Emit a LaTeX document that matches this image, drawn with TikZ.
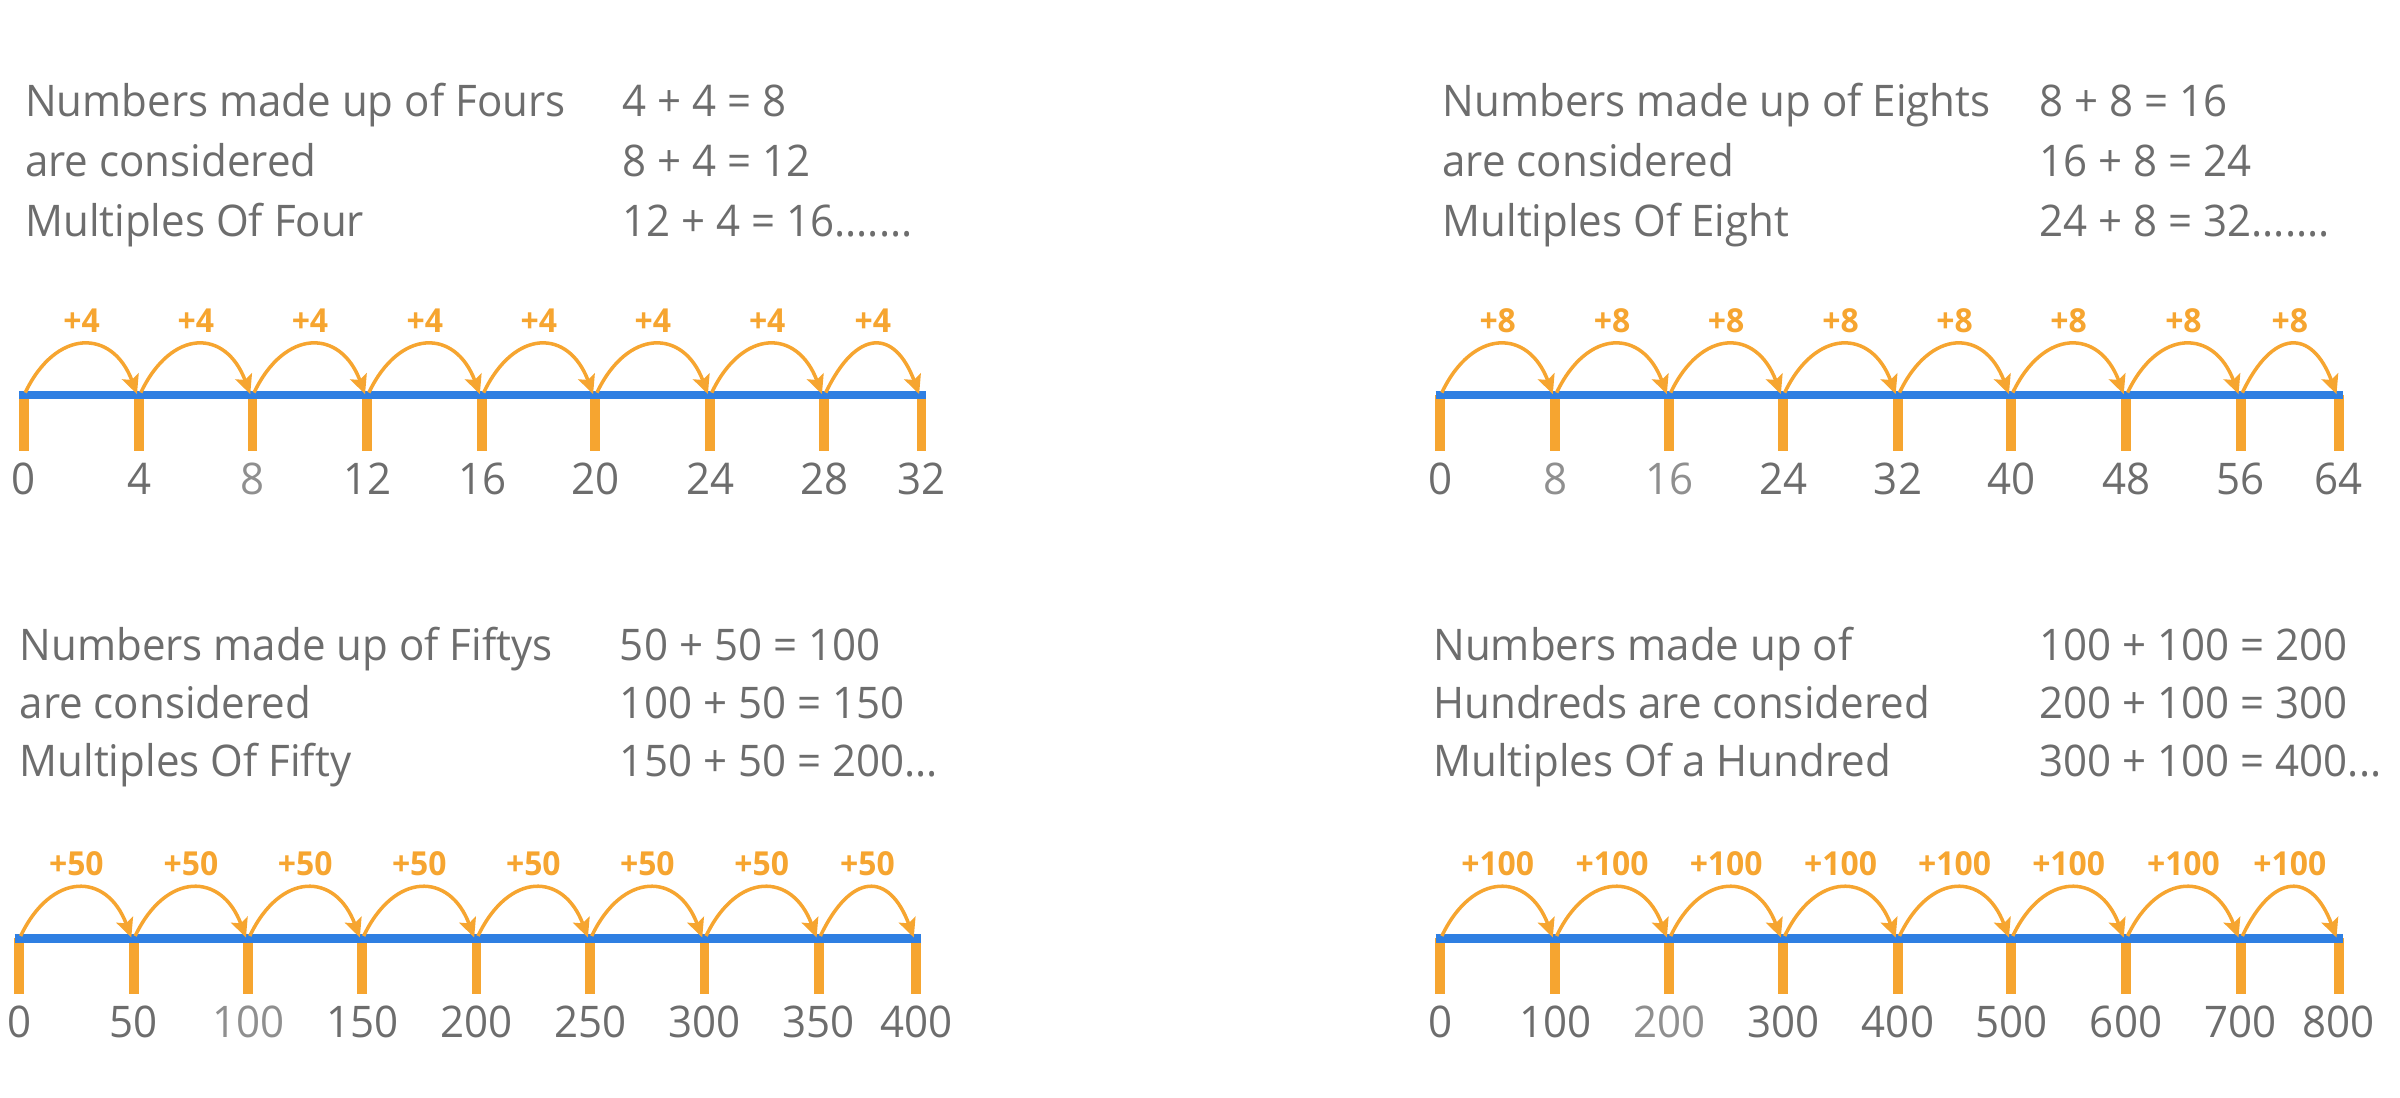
\documentclass[tikz,border=0pt]{standalone}
\usepackage{fontspec}
\setmainfont{Open Sans}[FakeStretch=0.965]
\usetikzlibrary{arrows.meta,calc}
\definecolor{txt}{HTML}{6D6D6D}
\definecolor{txtl}{HTML}{8F8F8F}
\definecolor{org}{HTML}{F6A530}
\definecolor{blu}{HTML}{2F7FE2}
\newcommand\mknumline[4]{%
  % #1 prefix, #2 line y, #3 list x/label/colour, #4 step label
  \foreach \x/\n/\cl [count=\i from 0] in {#3} {
    \coordinate (#1\i) at (\x,#2);
    \coordinate (#1b\i) at (\x,#2+36.5);
    \draw[tickmark] (#1\i) -- (#1b\i);
    \node[numlbl,text=\cl] (#1n\i) at (\x,#2+65) {\n};
  }
  \draw[axisline] ($(#10)+(-3,0)$) -- ($(#18)+(3,0)$);
  \foreach \i [evaluate=\i as \j using int(\i+1)] in {0,...,7} {
    \draw[jump] ($(#1\i)+(1,-1.5)$) .. controls +(20,-42) and +(-16,-43) .. ($(#1\j)+(-1.5,-0.5)$);
    \node[steplbl] (#1s\i) at ($(#1\i)!0.5!(#1\j)+(0,-41)$) {#4};
  }
}
\begin{document}
\begin{tikzpicture}[x=0.015306cm,y=-0.015306cm,
  txtnode/.style={anchor=base west,text=txt,font=\fontsize{12.4}{15}\selectfont,inner sep=0pt},
  numlbl/.style={anchor=base,font=\fontsize{12.4}{15}\selectfont,inner sep=0pt},
  steplbl/.style={anchor=base,text=org,font=\bfseries\fontsize{9.4}{11}\selectfont,inner sep=0pt},
  axisline/.style={draw=blu,line width=2.5pt},
  tickmark/.style={draw=org,line width=2.8pt},
  jump/.style={draw=org,line width=1pt,-{Stealth[length=5.4pt,width=5pt,inset=1.1pt]}}]
\useasboundingbox (0,0) rectangle (1568,717);

% ---------- top left ----------
\node[txtnode] (tl1) at (16,76.2) {Numbers made up of Fours};
\node[txtnode] (tl2) at (16,115.4) {are considered};
\node[txtnode] (tl3) at (16,154.6) {Multiples Of Four};
\node[txtnode] (tl4) at (406,76.2) {4 + 4 = 8};
\node[txtnode] (tl5) at (406,115.4) {8 + 4 = 12};
\node[txtnode] (tl6) at (406,154.6) {12 + 4 = 16.......};
\mknumline{a}{258}{15.5/0/txt,91/4/txt,165/8/txtl,240/12/txt,315/16/txt,389/20/txt,464/24/txt,538.5/28/txt,602/32/txt}{+4}

% ---------- top right ----------
\node[txtnode] (tr1) at (942,76.2) {Numbers made up of Eights};
\node[txtnode] (tr2) at (942,115.4) {are considered};
\node[txtnode] (tr3) at (942,154.6) {Multiples Of Eight};
\node[txtnode] (tr4) at (1332,76.2) {8 + 8 = 16};
\node[txtnode] (tr5) at (1332,115.4) {16 + 8 = 24};
\node[txtnode] (tr6) at (1332,154.6) {24 + 8 = 32.......};
\mknumline{b}{258}{941/0/txt,1016/8/txtl,1090.5/16/txtl,1165/24/txt,1240/32/txt,1314/40/txt,1389/48/txt,1464/56/txt,1528/64/txt}{+8}

% ---------- bottom left ----------
\node[txtnode] (bl1) at (12.4,431.2) {Numbers made up of Fiftys};
\node[txtnode] (bl2) at (12.4,469.3) {are considered};
\node[txtnode] (bl3) at (12.4,507.4) {Multiples Of Fifty};
\node[txtnode] (bl4) at (404.6,431.2) {50 + 50 = 100};
\node[txtnode] (bl5) at (404.6,469.3) {100 + 50 = 150};
\node[txtnode] (bl6) at (404.6,507.4) {150 + 50 = 200...};
\mknumline{c}{613}{12.5/0/txt,87.3/50/txt,162.2/100/txtl,236.6/150/txt,311.3/200/txt,385.6/250/txt,460.3/300/txt,535/350/txt,598.5/400/txt}{+50}

% ---------- bottom right ----------
\node[txtnode] (br1) at (936,431.2) {Numbers made up of};
\node[txtnode] (br2) at (936,469.3) {Hundreds are considered};
\node[txtnode] (br3) at (936,507.4) {Multiples Of a Hundred};
\node[txtnode] (br4) at (1332,431.2) {100 + 100 = 200};
\node[txtnode] (br5) at (1332,469.3) {200 + 100 = 300};
\node[txtnode] (br6) at (1332,507.4) {300 + 100 = 400...};
\mknumline{d}{613}{941/0/txt,1016/100/txt,1090.5/200/txtl,1165/300/txt,1240/400/txt,1314/500/txt,1389/600/txt,1464/700/txt,1528/800/txt}{+100}
\end{tikzpicture}
\end{document}
